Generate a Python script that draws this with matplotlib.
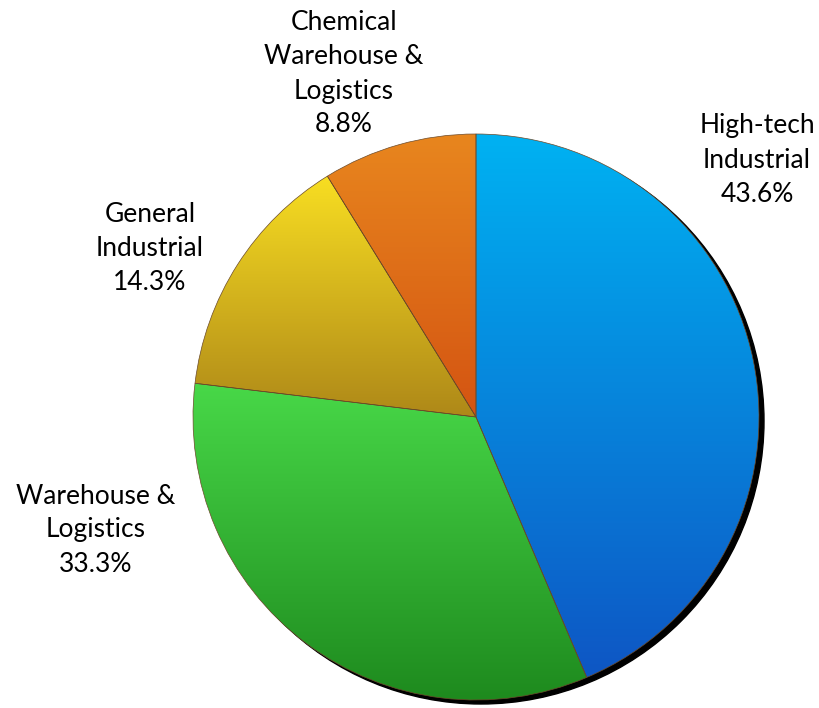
import matplotlib.pyplot as plt
import matplotlib.colors as mcolors
from matplotlib.patches import Circle
import numpy as np

labels = ['High-tech\nIndustrial', 'Warehouse &\nLogistics', 'General\nIndustrial',
          'Chemical\nWarehouse &\nLogistics']
shares = [43.6, 33.3, 14.3, 8.8]
top_colors = ['#00B2F2', '#48D848', '#F8DE22', '#E8861E']
bottom_colors = ['#0E56C4', '#1E8A1E', '#AE8818', '#D45412']
label_pos = [(757, 160), (96, 530), (150, 249), (344, 74)]

W, H = 819, 708
cx, cy, r = 476, H - 417, 283

fig = plt.figure(figsize=(8.19, 7.08), dpi=100)
ax = fig.add_axes([0, 0, 1, 1])

# drop shadow
ax.add_patch(Circle((cx + 5, cy - 4), r, color='black', zorder=0))

wedges, _ = ax.pie(shares, startangle=90, counterclock=False, radius=r,
                   center=(cx, cy), frame=True,
                   wedgeprops=dict(edgecolor='#6b4a2a', linewidth=0.5, facecolor='none'))
ax.set_xlim(0, W)
ax.set_ylim(0, H)
ax.set_aspect('equal')
ax.axis('off')

renderer = fig.canvas.get_renderer()
inv = ax.transData.inverted()
for w, c0, c1 in zip(wedges, top_colors, bottom_colors):
    bb = w.get_window_extent(renderer=renderer)
    (x0, y0), (x1, y1) = inv.transform([[bb.x0, bb.y0], [bb.x1, bb.y1]])
    cmap = mcolors.LinearSegmentedColormap.from_list('g', [c1, c0])
    grad = np.linspace(0, 1, 256).reshape(-1, 1)
    im = ax.imshow(grad, cmap=cmap, extent=[x0, x1, y0, y1], origin='lower',
                   aspect='auto', zorder=1)
    im.set_clip_path(w)
    w.set_zorder(2)

ax.set_xlim(0, W)
ax.set_ylim(0, H)

for (lx, ly), lab, s in zip(label_pos, labels, shares):
    ax.text(lx, H - ly, f'{lab}\n{s}%', ha='center', va='center',
            fontsize=19, family=['Lato', 'DejaVu Sans'], linespacing=1.45, color='black')

fig.savefig('out.png', dpi=100)
